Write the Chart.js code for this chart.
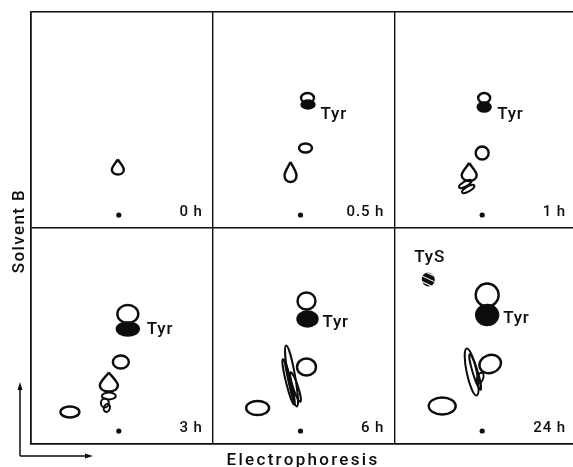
<!DOCTYPE html>
<html>
<head>
<meta charset="utf-8">
<script src="https://cdn.jsdelivr.net/npm/chart.js@4/dist/chart.umd.min.js"></script>
<style>
  html, body { margin: 0; padding: 0; background: #fff; overflow: hidden; }
  canvas { display: block; }
</style>
</head>
<body>
<canvas id="tlc" width="580" height="467"></canvas>
<script>
// panel grid: 3 columns x 2 rows, each panel PANEL_W x PANEL_H units
const PANEL_W = 182, PANEL_H = 216;
const ORIGIN = [88, 13]; // application point inside each panel

const times = ['0 h', '0.5 h', '1 h', '3 h', '6 h', '24 h'];
const panelCol = [0, 1, 2, 0, 1, 2];
const panelRow = [1, 1, 1, 0, 0, 0];

// spots: [panel, dx, dy, width, height, rotation deg] relative to origin
const openSpots = [
  [1, 7, 117, 13, 10, 0],
  [1, 5, 67, 13, 9, 0],
  [2, 2, 117, 12, 10, 0],
  [2, 0, 62, 13, 13, 0],
  [3, 9, 117, 21, 18, 0],
  [3, 2, 69, 16, 13, 0],
  [3, -49, 19, 19, 11, 0],
  [4, 6, 130, 18, 17, 0],
  [4, 6, 64, 19, 17, 0],
  [4, -43, 23, 23, 14, 0],
  [5, 5, 136, 23, 23, 0],
  [5, 8, 67, 22, 18, -20],
  [5, -40, 25, 27, 17, 0]
];
const filledSpots = [
  [1, 7.5, 110.5, 13, 8, 0],
  [2, 2, 108, 13, 9, 0],
  [3, 9, 102, 22, 13, 0],
  [4, 7, 112, 20, 15, 0],
  [5, 5, 116, 22, 20, 0]
];
const hatchedSpots = [
  [5, -54, 151.5, 13, 14, -20]
];
const dropSpots = [
  [0, -1, 48, 12, 15, 0],
  [1, -10, 43, 12, 20, 0],
  [2, -13, 43, 15, 18, 0],
  [3, -10, 49, 18, 19, 0]
];
const streakSpots = [
  [2, -17, 31, 5, 14, 60],
  [2, -14, 26, 5, 14, 60],
  [3, -10, 35, 14, 7, 0],
  [3, -14, 28, 8, 9, 0],
  [3, -12, 23, 6, 8, 20],
  [4, -9, 55, 7, 62, -10],
  [4, -12, 49, 5, 47, -14],
  [4, -11, 50, 2, 44, -13],
  [4, -5, 44, 5, 31, -18],
  [5, -10.5, 59, 10, 48, -12],
  [5, -7, 59, 5, 37, -17],
  [5, -2, 53, 6, 11, 20]
];
// spot names: [panel, dx, dy(baseline), text]
const spotNames = [
  [1, 20, 96, 'Tyr'],
  [2, 15, 96, 'Tyr'],
  [3, 28, 97, 'Tyr'],
  [4, 22, 104, 'Tyr'],
  [5, 21, 108, 'Tyr'],
  [5, -68, 169, 'TyS']
];

const toPoint = s => ({
  x: panelCol[s[0]] * PANEL_W + ORIGIN[0] + s[1],
  y: panelRow[s[0]] * PANEL_H + ORIGIN[1] + s[2],
  w: s[3], h: s[4], r: s[5]
});
const origins = times.map((t, i) => toPoint([i, 0, 0, 0, 0, 0]));

const INK = '#0d0d0d';
const LABEL_FONT = 'Roboto, "DejaVu Sans", sans-serif';

function dropPath(ctx, rx, ry) {
  ctx.moveTo(0, -ry);
  ctx.bezierCurveTo(rx * 0.35, -ry * 0.55, rx, -ry * 0.05, rx, ry * 0.35);
  ctx.bezierCurveTo(rx, ry * 0.8, rx * 0.5, ry, 0, ry);
  ctx.bezierCurveTo(-rx * 0.5, ry, -rx, ry * 0.8, -rx, ry * 0.35);
  ctx.bezierCurveTo(-rx, -ry * 0.05, -rx * 0.35, -ry * 0.55, 0, -ry);
}

function drawShape(ctx, shape, px, py, rx, ry, rot) {
  ctx.save();
  ctx.translate(px, py);
  ctx.rotate(rot);
  ctx.beginPath();
  if (shape === 'drop') dropPath(ctx, rx, ry);
  else ctx.ellipse(0, 0, rx, ry, 0, 0, Math.PI * 2);
  ctx.strokeStyle = INK;
  ctx.fillStyle = INK;
  ctx.lineWidth = shape === 'streak' ? 2 : 2.4;
  if (shape === 'filled') ctx.fill();
  if (shape === 'hatched') {
    ctx.fill();
    ctx.clip();
    ctx.strokeStyle = '#fff';
    ctx.lineWidth = 1.1;
    const m = Math.max(rx, ry) * 2;
    for (let o = -m; o <= m; o += 3.6) {
      ctx.beginPath();
      ctx.moveTo(-m + o, -m - o);
      ctx.lineTo(m + o, m - o);
      ctx.stroke();
    }
  } else {
    ctx.stroke();
  }
  ctx.restore();
}

const spotPlugin = {
  id: 'spots',
  afterDatasetsDraw(chart) {
    const { ctx, scales: { x, y } } = chart;
    const ux = Math.abs(x.getPixelForValue(1) - x.getPixelForValue(0));
    const uy = Math.abs(y.getPixelForValue(1) - y.getPixelForValue(0));
    chart.data.datasets.forEach((ds, i) => {
      if (!ds.shape) return;
      chart.getDatasetMeta(i).data.forEach((el, j) => {
        const d = ds.data[j];
        drawShape(ctx, ds.shape, el.x, el.y, d.w * ux / 2, d.h * uy / 2, d.r * Math.PI / 180);
      });
    });
  }
};

const textPlugin = {
  id: 'texts',
  afterDraw(chart) {
    const { ctx, chartArea: a, scales: { x, y } } = chart;
    ctx.save();
    ctx.fillStyle = INK;
    ctx.textBaseline = 'alphabetic';

    // time labels, bottom right of each panel
    ctx.font = '500 15px ' + LABEL_FONT;
    ctx.letterSpacing = '0.9px';
    ctx.textAlign = 'right';
    times.forEach((t, i) => {
      const px = x.getPixelForValue((panelCol[i] + 1) * PANEL_W - 10);
      const py = y.getPixelForValue(panelRow[i] * PANEL_H + 12);
      ctx.fillText(t, px, py);
    });

    // spot names
    ctx.font = '500 17px ' + LABEL_FONT;
    ctx.letterSpacing = '0.8px';
    ctx.textAlign = 'left';
    spotNames.forEach(s => {
      const p = toPoint([s[0], s[1], s[2], 0, 0, 0]);
      ctx.fillText(s[3], x.getPixelForValue(p.x), y.getPixelForValue(p.y));
    });

    // axis titles
    ctx.font = '500 17px ' + LABEL_FONT;
    ctx.letterSpacing = '2.3px';
    ctx.textAlign = 'center';
    ctx.fillText('Electrophoresis', a.left + 272, a.bottom + 21);
    ctx.save();
    ctx.translate(a.left - 7, (a.top + a.bottom) / 2 + 3);
    ctx.rotate(-Math.PI / 2);
    ctx.letterSpacing = '1.4px';
    ctx.fillText('Solvent B', 0, 0);
    ctx.restore();
    ctx.letterSpacing = '0px';

    // direction arrows
    const ox = a.left - 11, oy = a.bottom + 12;
    ctx.strokeStyle = INK;
    ctx.lineWidth = 1.5;
    ctx.beginPath();
    ctx.moveTo(ox, oy);
    ctx.lineTo(ox, oy - 70);
    ctx.moveTo(ox, oy);
    ctx.lineTo(ox + 68, oy);
    ctx.stroke();
    ctx.beginPath();
    ctx.moveTo(ox, oy - 74); ctx.lineTo(ox - 2.5, oy - 66); ctx.lineTo(ox + 2.5, oy - 66); ctx.closePath();
    ctx.moveTo(ox + 73, oy); ctx.lineTo(ox + 65, oy - 2.5); ctx.lineTo(ox + 65, oy + 2.5); ctx.closePath();
    ctx.fill();
    ctx.restore();
  }
};

const shapeSet = (shape, list) => ({
  shape,
  data: list.map(toPoint),
  pointRadius: 0,
  pointHoverRadius: 0
});

new Chart(document.getElementById('tlc'), {
  type: 'scatter',
  data: {
    datasets: [
      { data: origins, pointRadius: 2.6, pointBorderWidth: 0, pointBackgroundColor: INK },
      shapeSet('filled', filledSpots),
      shapeSet('open', openSpots),
      shapeSet('hatched', hatchedSpots),
      shapeSet('drop', dropSpots),
      shapeSet('streak', streakSpots)
    ]
  },
  options: {
    responsive: false,
    animation: false,
    devicePixelRatio: 1,
    events: [],
    layout: { padding: { left: 31, top: 12, right: 3, bottom: 23 } },
    plugins: { legend: { display: false }, tooltip: { enabled: false } },
    scales: {
      x: {
        type: 'linear', min: 0, max: PANEL_W * 3,
        ticks: { display: false, stepSize: PANEL_W },
        grid: { color: INK, lineWidth: 1.4, drawTicks: false },
        border: { color: INK, width: 1.6 }
      },
      y: {
        type: 'linear', min: 0, max: PANEL_H * 2,
        ticks: { display: false, stepSize: PANEL_H },
        grid: { color: INK, lineWidth: 1.4, drawTicks: false },
        border: { color: INK, width: 1.6 }
      }
    }
  },
  plugins: [spotPlugin, textPlugin]
});
</script>
</body>
</html>
